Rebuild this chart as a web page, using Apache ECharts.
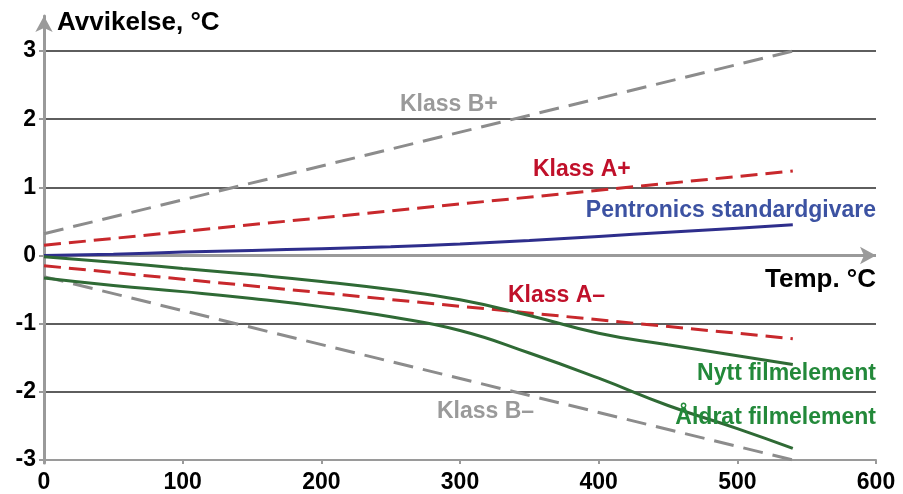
<!DOCTYPE html>
<html><head><meta charset="utf-8">
<script src="https://cdn.jsdelivr.net/npm/echarts@6/dist/echarts.min.js"></script>
<style>html,body{margin:0;padding:0;background:#fff}#c{width:903px;height:494px}</style>
</head><body><div id="c"></div>
<script>
// ---- data ----
const temps      = [0, 50, 100, 150, 200, 250, 300, 350, 400, 450, 500, 540];
const pentronics = [0, 0.02, 0.05, 0.075, 0.10, 0.13, 0.17, 0.22, 0.28, 0.34, 0.40, 0.45];
const nytt       = [-0.02, -0.10, -0.19, -0.28, -0.38, -0.50, -0.65, -0.88, -1.14, -1.31, -1.47, -1.60];
const aldrat     = [-0.33, -0.44, -0.53, -0.63, -0.75, -0.90, -1.10, -1.43, -1.80, -2.20, -2.54, -2.83];
const klassT     = [0, 540];
const klassBplus = [0.32, 3.0];
const klassAplus = [0.15, 1.24];
const klassAminus= [-0.15, -1.22];
const klassBminus= [-0.31, -3.0];
const xTicks = [0, 100, 200, 300, 400, 500, 600];
const yTicks = [-3, -2, -1, 0, 1, 2, 3];

const pair = (xs, ys) => xs.map((x, i) => [x, ys[i]]);
const FONT = '"Liberation Sans", Arial, Helvetica, sans-serif';

const chart = echarts.init(document.getElementById('c'));
const labelText = (txt, x, y, color, align) => ({
  type: 'text', x: x, y: y, z: 100,
  style: { text: txt, fill: color, font: 'bold 23px ' + FONT, textAlign: align || 'left', textVerticalAlign: 'middle' }
});

chart.setOption({
  animation: false,
  backgroundColor: '#fff',
  grid: [
    { left: 44, right: 27, top: 51, bottom: 31 },
    { left: 44, right: 27, top: 16, bottom: 31 }
  ],
  xAxis: [
    { type: 'value', gridIndex: 0, min: xTicks[0], max: xTicks[xTicks.length - 1], interval: 100,
      axisLine: { onZero: false, lineStyle: { color: '#9a9a9a', width: 2 } },
      axisTick: { show: true, length: 4, lineStyle: { color: '#9a9a9a', width: 2 } },
      axisLabel: { color: '#000', fontWeight: 'bold', fontSize: 23, fontFamily: FONT, margin: 11 },
      splitLine: { show: false } },
    { type: 'value', gridIndex: 1, min: 0, max: 1, show: false }
  ],
  yAxis: [
    { type: 'value', gridIndex: 0, min: yTicks[0], max: yTicks[yTicks.length - 1], interval: 1,
      axisLine: { show: false },
      axisTick: { show: true, length: 5, lineStyle: { color: '#9a9a9a', width: 2 } },
      axisLabel: { color: '#000', fontWeight: 'bold', fontSize: 23, fontFamily: FONT, margin: 8 },
      splitLine: { show: true, lineStyle: { color: '#5e5e5e', width: 2 } } },
    { type: 'value', gridIndex: 1, min: 0, max: 1,
      axisLine: { show: true, symbol: ['none', 'arrow'], symbolSize: [13, 16], lineStyle: { color: '#9a9a9a', width: 3 } },
      axisTick: { show: false }, axisLabel: { show: false }, splitLine: { show: false } }
  ],
  series: [
    { type: 'line', name: 'Klass B+', data: pair(klassT, klassBplus), symbol: 'none', z: 3,
      lineStyle: { color: '#8c8c8c', width: 3, type: [20, 10] },
      markLine: { silent: true, symbol: ['none', 'arrow'], symbolSize: [13, 16], label: { show: false },
        lineStyle: { color: '#9a9a9a', width: 3, type: 'solid' }, data: [{ yAxis: 0 }] } },
    { type: 'line', name: 'Klass B-', data: pair(klassT, klassBminus), symbol: 'none', z: 3,
      lineStyle: { color: '#8c8c8c', width: 3, type: [20, 10] } },
    { type: 'line', name: 'Klass A+', data: pair(klassT, klassAplus), symbol: 'none', z: 4,
      lineStyle: { color: '#c8282c', width: 3, type: [17, 8] } },
    { type: 'line', name: 'Klass A-', data: pair(klassT, klassAminus), symbol: 'none', z: 4,
      lineStyle: { color: '#c8282c', width: 3, type: [17, 8] } },
    { type: 'line', name: 'Pentronics', data: pair(temps, pentronics), symbol: 'none', smooth: 0.5, z: 5,
      lineStyle: { color: '#2e2e8c', width: 3 } },
    { type: 'line', name: 'Nytt', data: pair(temps, nytt), symbol: 'none', smooth: 0.5, z: 5,
      lineStyle: { color: '#2f6a35', width: 3 } },
    { type: 'line', name: 'Aldrat', data: pair(temps, aldrat), symbol: 'none', smooth: 0.5, z: 5,
      lineStyle: { color: '#2f6a35', width: 3 } }
  ],
  graphic: [
    { type: 'text', x: 57, y: 23, z: 100, style: { text: 'Avvikelse, °C', fill: '#000', font: 'bold 26px ' + FONT, textVerticalAlign: 'middle' } },
    { type: 'text', x: 876, y: 280, z: 100, style: { text: 'Temp. °C', fill: '#000', font: 'bold 26px ' + FONT, textAlign: 'right', textVerticalAlign: 'middle' } },
    labelText('Klass B+', 400, 105, '#9a9a9a'),
    labelText('Klass A+', 533, 170, '#c0102a'),
    labelText('Pentronics standardgivare', 876, 211, '#3c52a2', 'right'),
    labelText('Klass A–', 508, 296, '#c0102a'),
    labelText('Nytt filmelement', 876, 374, '#23893a', 'right'),
    labelText('Åldrat filmelement', 876, 418, '#23893a', 'right'),
    labelText('Klass B–', 437, 412, '#9a9a9a')
  ]
});
</script></body></html>
